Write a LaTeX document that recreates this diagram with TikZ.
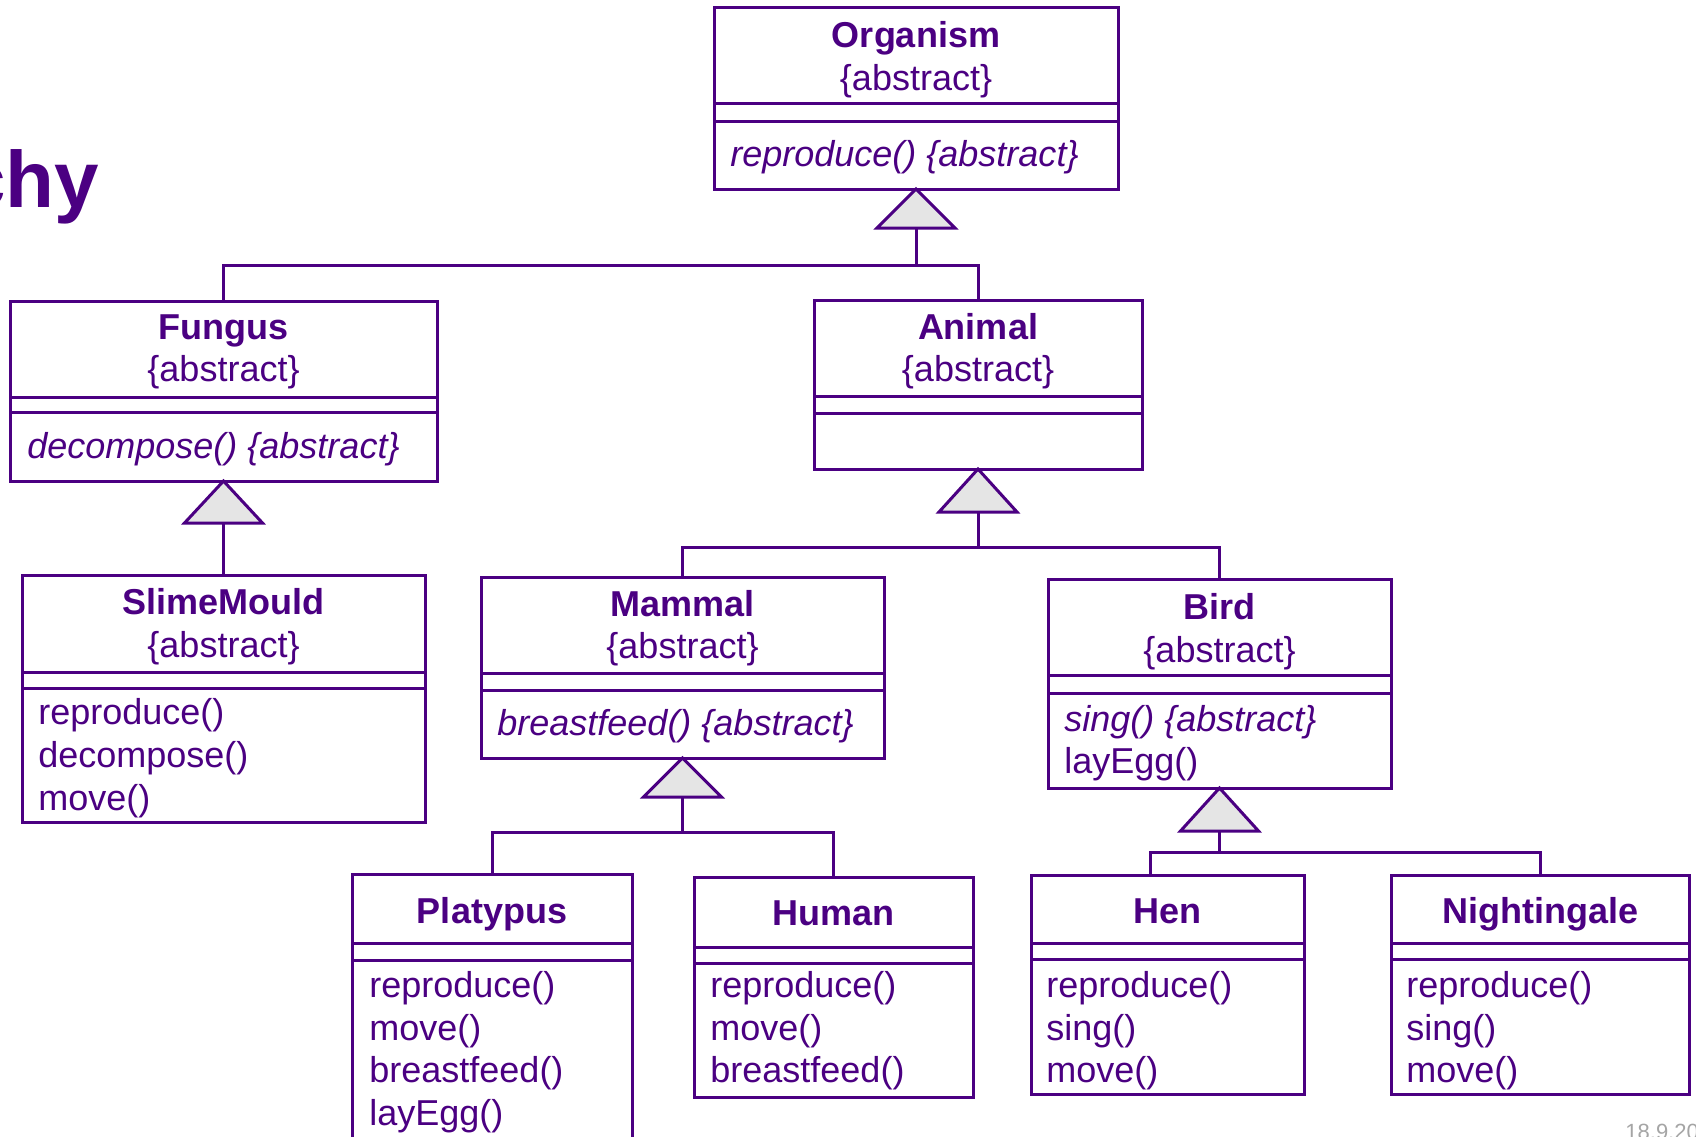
\documentclass[tikz,border=0pt]{standalone}
\usepackage{fontspec}
\setmainfont{Liberation Sans}
\usetikzlibrary{calc}

\definecolor{ink}{RGB}{75,0,130}
\definecolor{trifill}{RGB}{229,229,229}
\definecolor{datefg}{RGB}{165,165,165}

% class box: name, left, top, right, bottom, first separator, second separator
\newcommand\umlclass[7]{%
  \node[cls, minimum width={(#4-#2)*0.5pt}, minimum height={(#5-#3)*0.5pt}] (#1) at (#2,#3) {};
  \draw[sepline] (#1.west |- 0,#6) -- (#1.east |- 0,#6);
  \draw[sepline] (#1.west |- 0,#7) -- (#1.east |- 0,#7);
}
% generalisation triangle under a parent box: parent, height
\newcommand\gentri[2]{%
  \draw[gen] (#1.south) -- ++(-39,#2) -- ++(78,0) -- cycle;
  \coordinate (#1tb) at ($(#1.south)+(0,#2)$);
}

\begin{document}
\begin{tikzpicture}[x=0.5pt,y=-0.5pt,
  cls/.style={draw=ink, line width=1.5pt, rectangle, inner sep=0pt, outer sep=0pt, anchor=north west},
  sepline/.style={draw=ink, line width=1.5pt},
  conn/.style={draw=ink, line width=1.5pt},
  gen/.style={draw=ink, fill=trifill, line width=1.5pt, line join=miter},
  ttl/.style={font=\bfseries\fontsize{18}{21}\selectfont, text=ink, anchor=base, inner sep=0pt},
  txt/.style={font=\fontsize{18}{21}\selectfont, text=ink, anchor=base, inner sep=0pt},
  mth/.style={font=\fontsize{18}{21}\selectfont, text=ink, anchor=base west, inner sep=0pt},
  amth/.style={font=\itshape\fontsize{18}{21}\selectfont, text=ink, anchor=base west, inner sep=0pt},
]
\clip (0,0) rectangle (1696,1136);
\fill[white] (0,0) rectangle (1696,1136);

% heading fragment and date
\node[font=\bfseries\fontsize{40}{48}\selectfont, text=ink, anchor=base west, inner sep=0pt] (hdr) at (-39,207) {chy};
\node[font=\fontsize{11}{13}\selectfont, text=datefg, anchor=base west, inner sep=0pt] (date) at (1625,1139) {18.9.20};

% ---------- class boxes ----------
\umlclass{org}{714}{7}{1118}{189}{103}{121}
\node[ttl] (orgT) at (916,47) {Organism};
\node[txt] (orgA) at (916,90) {\{abstract\}};
\node[amth] (orgM) at (730,166) {reproduce() \{abstract\}};

\umlclass{fun}{10}{301}{437}{481}{397}{412}
\node[ttl] (funT) at (223.5,339) {Fungus};
\node[txt] (funA) at (223.5,381) {\{abstract\}};
\node[amth] (funM) at (27,458) {decompose() \{abstract\}};

\umlclass{ani}{814}{300}{1142}{469}{396}{413}
\node[ttl] (aniT) at (978,339) {Animal};
\node[txt] (aniA) at (978,381) {\{abstract\}};

\umlclass{sli}{22}{575}{425}{822}{672}{688}
\node[ttl] (sliT) at (223.5,614) {SlimeMould};
\node[txt] (sliA) at (223.5,657) {\{abstract\}};
\node[mth] (sliM1) at (38,724) {reproduce()};
\node[mth] (sliM2) at (38,767) {decompose()};
\node[mth] (sliM3) at (38,810) {move()};

\umlclass{mam}{481}{577}{884}{758}{673}{690}
\node[ttl] (mamT) at (682.5,616) {Mammal};
\node[txt] (mamA) at (682.5,658) {\{abstract\}};
\node[amth] (mamM) at (497,735) {breastfeed() \{abstract\}};

\umlclass{bir}{1048}{579}{1391}{788}{675}{693}
\node[ttl] (birT) at (1219.5,619) {Bird};
\node[txt] (birA) at (1219.5,662) {\{abstract\}};
\node[amth] (birM1) at (1064,731) {sing() \{abstract\}};
\node[mth] (birM2) at (1064,773) {layEgg()};

\umlclass{pla}{352}{874}{632}{1160}{943}{960}
\node[ttl] (plaT) at (492,923) {Platypus};
\node[mth] (plaM1) at (369,997) {reproduce()};
\node[mth] (plaM2) at (369,1040) {move()};
\node[mth] (plaM3) at (369,1082) {breastfeed()};
\node[mth] (plaM4) at (369,1125) {layEgg()};

\umlclass{hum}{694}{877}{973}{1097}{947}{963}
\node[ttl] (humT) at (833.5,925) {Human};
\node[mth] (humM1) at (710,997) {reproduce()};
\node[mth] (humM2) at (710,1040) {move()};
\node[mth] (humM3) at (710,1082) {breastfeed()};

\umlclass{hen}{1031}{875}{1304}{1094}{943}{959}
\node[ttl] (henT) at (1167.5,923) {Hen};
\node[mth] (henM1) at (1046,997) {reproduce()};
\node[mth] (henM2) at (1046,1040) {sing()};
\node[mth] (henM3) at (1046,1082) {move()};

\umlclass{nig}{1391}{875}{1689}{1094}{943}{959}
\node[ttl] (nigT) at (1540,923) {Nightingale};
\node[mth] (nigM1) at (1406,997) {reproduce()};
\node[mth] (nigM2) at (1406,1040) {sing()};
\node[mth] (nigM3) at (1406,1082) {move()};

% ---------- generalisations ----------
\gentri{org}{39}
\coordinate (busO) at (0,265);
\draw[conn] (orgtb) -- (orgtb |- busO);
\draw[conn] (fun.north) -- (fun.north |- busO) -- (ani.north |- busO) -- (ani.north);

\gentri{fun}{42}
\draw[conn] (funtb) -- (sli.north);

\gentri{ani}{43}
\coordinate (busA) at (0,547);
\draw[conn] (anitb) -- (anitb |- busA);
\draw[conn] (mam.north) -- (mam.north |- busA) -- (bir.north |- busA) -- (bir.north);

\gentri{mam}{39}
\coordinate (busM) at (0,832);
\draw[conn] (mamtb) -- (mamtb |- busM);
\draw[conn] (pla.north) -- (pla.north |- busM) -- (hum.north |- busM) -- (hum.north);

\gentri{bir}{43}
\coordinate (busB) at (0,852);
\draw[conn] (birtb) -- (birtb |- busB);
\draw[conn] ([xshift=-8.5pt]hen.north) -- ([xshift=-8.5pt]hen.north |- busB) -- (nig.north |- busB) -- (nig.north);
\end{tikzpicture}
\end{document}
